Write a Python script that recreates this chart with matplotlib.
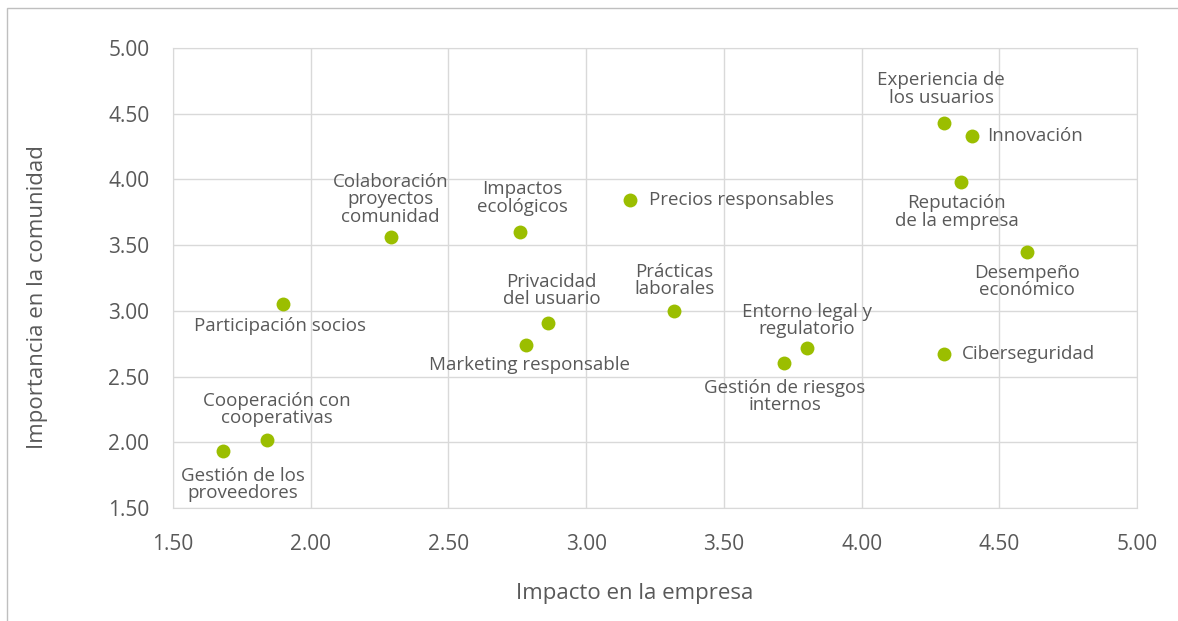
import matplotlib.pyplot as plt
from matplotlib.patches import Rectangle

plt.rcParams["font.family"] = ["Open Sans", "DejaVu Sans"]

temas = [
    "Experiencia de\nlos usuarios",
    "Innovación",
    "Reputación\nde la empresa",
    "Desempeño\neconómico",
    "Ciberseguridad",
    "Entorno legal y\nregulatorio",
    "Gestión de riesgos\ninternos",
    "Prácticas\nlaborales",
    "Precios responsables",
    "Impactos\necológicos",
    "Privacidad\ndel usuario",
    "Marketing responsable",
    "Colaboración\nproyectos\ncomunidad",
    "Participación socios",
    "Cooperación con\ncooperativas",
    "Gestión de los\nproveedores",
]
impacto_empresa = [4.30, 4.40, 4.36, 4.60, 4.30, 3.80, 3.72, 3.32, 3.16, 2.76, 2.86, 2.78, 2.29, 1.90, 1.84, 1.68]
importancia_comunidad = [4.43, 4.33, 3.98, 3.45, 2.67, 2.72, 2.60, 3.00, 3.84, 3.60, 2.91, 2.74, 3.56, 3.05, 2.02, 1.93]

# label placement: (dx, dy) in pixels, horizontal alignment
label_pos = [
    ((-3, 34), "center"),
    ((15, 0), "left"),
    ((-4, -30), "center"),
    ((0, -30), "center"),
    ((18, 0), "left"),
    ((0, 27), "center"),
    ((0, -33), "center"),
    ((0, 30), "center"),
    ((19, 0), "left"),
    ((2, 34), "center"),
    ((4, 32), "center"),
    ((4, -20), "center"),
    ((0, 38), "center"),
    ((-3, -22), "center"),
    ((10, 30), "center"),
    ((20, -33), "center"),
]

TEXT = "#595959"
GRID = "#D9D9D9"


def plot() -> plt.Figure:
    fig = plt.figure(figsize=(11.78, 6.21), dpi=100)
    ax = fig.add_axes([0.1469, 0.182, 0.8183, 0.7407])

    ax.scatter(impacto_empresa, importancia_comunidad, s=100, color="#9BBE00", zorder=3, linewidths=0)

    for name, x, y, ((dx, dy), ha) in zip(temas, impacto_empresa, importancia_comunidad, label_pos):
        ax.annotate(name, (x, y), xytext=(dx, dy), textcoords="offset pixels",
                    ha=ha, va="center", fontsize=13.5, color=TEXT, linespacing=0.95)

    ax.set_xlim(1.5, 5.0)
    ax.set_ylim(1.5, 5.0)
    ticks = [1.5, 2.0, 2.5, 3.0, 3.5, 4.0, 4.5, 5.0]
    ax.set_xticks(ticks)
    ax.set_yticks(ticks)
    ax.set_xticklabels([f"{t:.2f}" for t in ticks])
    ax.set_yticklabels([f"{t:.2f}" for t in ticks])
    ax.tick_params(axis="y", length=0, labelsize=15, labelcolor=TEXT, pad=17)
    ax.tick_params(axis="x", length=0, labelsize=15, labelcolor=TEXT, pad=19)

    ax.grid(True, color=GRID, linewidth=1)
    ax.set_axisbelow(True)
    for s in ax.spines.values():
        s.set_color(GRID)

    fig.text(635 / 1178, 1 - 594 / 621, "Impacto en la empresa", fontsize=16, color=TEXT,
             ha="center", va="center")
    fig.text(38 / 1178, 1 - 297 / 621, "Importancia en la comunidad", fontsize=16, color=TEXT,
             ha="center", va="center", rotation=90)

    fig.add_artist(Rectangle((7 / 1178, -0.1), 1.2, 1.1 - 8 / 621, transform=fig.transFigure,
                             fill=False, edgecolor="#BFBFBF", linewidth=1))
    return fig


def main():
    fig = plot()
    fig.savefig("out.png", dpi=100)


if __name__ == "__main__":
    main()
